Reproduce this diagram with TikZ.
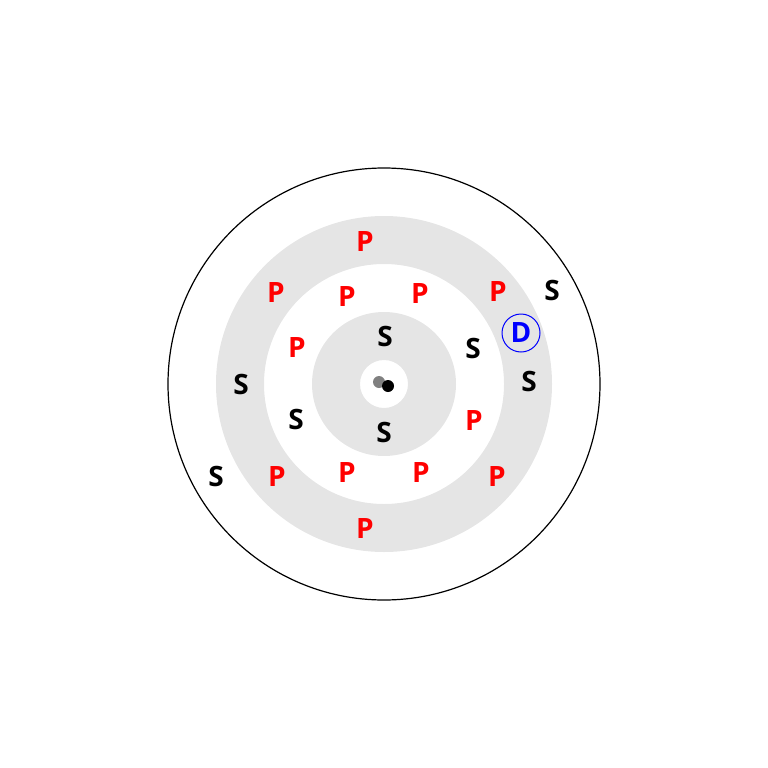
\documentclass[tikz,border=0pt]{standalone}
\usepackage{fontspec}
\setmainfont{Open Sans}[BoldFont={* Bold}]
\usepackage{tikz}
\begin{document}
\begin{tikzpicture}[x=1pt,y=-1pt]
\tikzstyle{letter} =[inner sep=0pt,font=\fontsize{28}{28}\selectfont\bfseries]
\tikzstyle{pel} =[letter,text=red]
\tikzstyle{sel} =[letter,text=black]
\tikzstyle{shell} =[fill=black!10,even odd rule]
\useasboundingbox (0,0) rectangle (768,768);
\coordinate (c) at (384,384);
% shells
\fill[shell] (c) circle (168) (c) circle (120);
\fill[shell] (c) circle (72) (c) circle (24);
\draw[line width=1.2pt] (c) circle (216);
% centre
\node[circle,fill=gray,inner sep=0pt,minimum size=12](g) at (379,382){};
\node[circle,fill=black,inner sep=0pt,minimum size=12](b) at (388,386){};
% P
\foreach \x/\y [count=\i] in {365/242,276/293,347/297,420/294,498/292,297/348,
  474/421,277/477,347/473,421/473,497/477,365/528}
  \node[pel](p\i) at (\x,\y){P};
% S
\foreach \x/\y [count=\i] in {552/290,385/336,473/348,241/384,529/381,
  296/419,384/432,216/476}
  \node[sel](s\i) at (\x,\y){S};
% D
\node[letter,text=blue,draw=blue,circle,line width=1pt,minimum size=38](d) at (521,333){D};
\end{tikzpicture}
\end{document}
